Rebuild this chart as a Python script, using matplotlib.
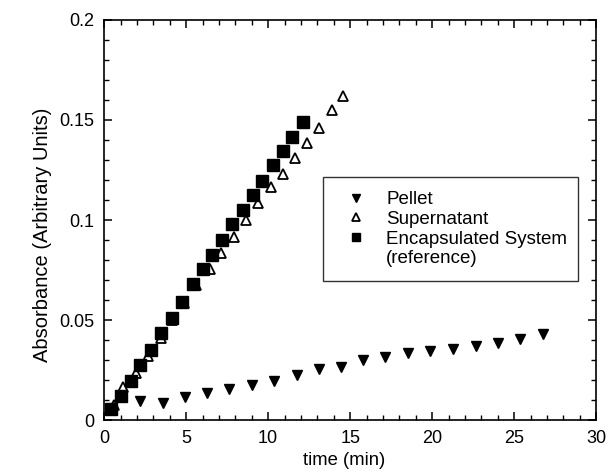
import matplotlib
matplotlib.use("Agg")
import matplotlib.pyplot as plt
from matplotlib.lines import Line2D
from matplotlib.ticker import MultipleLocator, FixedLocator

plt.rcParams["font.family"] = ["Liberation Sans", "DejaVu Sans"]

# --- data ---
pellet_t = [2.21, 3.56, 4.90, 6.28, 7.64, 9.01, 10.35, 11.74, 13.08, 14.43,
            15.81, 17.15, 18.54, 19.88, 21.27, 22.65, 23.99, 25.38, 26.73]
pellet_a = [0.0097, 0.0084, 0.0114, 0.0137, 0.0157, 0.0177, 0.0197, 0.0227, 0.0254, 0.0267,
            0.0300, 0.0314, 0.0337, 0.0344, 0.0357, 0.0370, 0.0387, 0.0404, 0.0430]

super_t = [0.62, 1.18, 1.92, 2.68, 3.45, 4.15, 4.85, 5.62, 6.47, 7.10,
           7.91, 8.64, 9.38, 10.15, 10.89, 11.64, 12.35, 13.12, 13.88, 14.59]
super_a = [0.0075, 0.0165, 0.0233, 0.0320, 0.0410, 0.0500, 0.0585, 0.0675, 0.0755, 0.0833,
           0.0913, 0.1000, 0.1083, 0.1163, 0.1230, 0.1308, 0.1387, 0.1458, 0.1550, 0.1620]

encap_t = [0.44, 1.05, 1.62, 2.17, 2.88, 3.49, 4.14, 4.75, 5.42, 6.00,
           6.59, 7.16, 7.81, 8.48, 9.05, 9.64, 10.27, 10.89, 11.44, 12.11]
encap_a = [0.0053, 0.0120, 0.0197, 0.0275, 0.0350, 0.0434, 0.0509, 0.0592, 0.0680, 0.0755,
           0.0824, 0.0900, 0.0980, 0.1050, 0.1125, 0.1195, 0.1275, 0.1347, 0.1417, 0.1489]

x_ticks = [0, 5, 10, 15, 20, 25, 30]
y_ticks = [0, 0.05, 0.1, 0.15, 0.2]
y_tick_labels = ["0", "0.05", "0.1", "0.15", "0.2"]
legend_labels = ["Pellet", "Supernatant", "Encapsulated System", "(reference)"]

fig = plt.figure(figsize=(6.09, 4.76), dpi=100)
ax = fig.add_axes([0.171, 0.1176, 0.808, 0.8404])

h1, = ax.plot(pellet_t, pellet_a, linestyle="none", marker="v", markersize=7.5,
              color="black")
h2, = ax.plot(super_t, super_a, linestyle="none", marker="^", markersize=7,
              markerfacecolor="white", markeredgecolor="black", markeredgewidth=1.3)
h3, = ax.plot(encap_t, encap_a, linestyle="none", marker="s", markersize=8,
              color="black")
h4 = Line2D([], [], linestyle="none", marker=None)  # blank handle for 2nd line

ax.set_xlim(0, 30)
ax.set_ylim(0, 0.2)
ax.xaxis.set_major_locator(FixedLocator(x_ticks))
ax.xaxis.set_minor_locator(MultipleLocator(1))
ax.yaxis.set_major_locator(FixedLocator(y_ticks))
ax.yaxis.set_minor_locator(MultipleLocator(0.01))
ax.set_yticklabels(y_tick_labels)

ax.tick_params(which="both", direction="in", top=True, right=True, labelsize=13)
ax.tick_params(which="major", length=6, width=1.1, pad=7)
ax.tick_params(which="minor", length=3.5, width=1.0)
for sp in ax.spines.values():
    sp.set_linewidth(1.2)

ax.set_xlabel("time (min)", fontsize=13.3)
ax.xaxis.set_label_coords(0.488, -0.08)
ax.set_ylabel("Absorbance (Arbitrary Units)", fontsize=14.5)
ax.yaxis.set_label_coords(-0.106, 0.4625)

leg = ax.legend([h1, h2, h3, h4], legend_labels,
                loc="upper left", bbox_to_anchor=(0.445, 0.6075, 0.518, 0.0),
                mode="expand", fontsize=13.5, frameon=True, fancybox=False,
                borderpad=0.76, labelspacing=0.13, handletextpad=0.6,
                handlelength=2.0, borderaxespad=0, markerscale=0.75)
leg.get_frame().set_edgecolor("black")
leg.get_frame().set_linewidth(1.0)

fig.savefig("out.png", dpi=100)
